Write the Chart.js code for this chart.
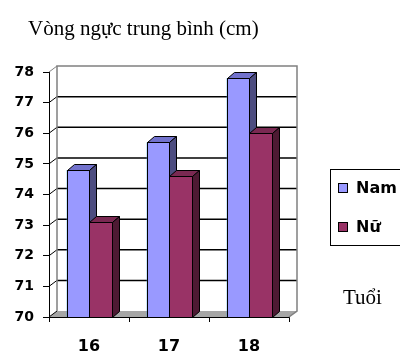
<!DOCTYPE html>
<html>
<head>
<meta charset="utf-8">
<script src="https://cdn.jsdelivr.net/npm/chart.js@4/dist/chart.umd.min.js"></script>
<style>
  html, body { margin: 0; padding: 0; background: #ffffff; }
  #wrap { width: 400px; height: 352px; position: relative; }
</style>
</head>
<body>
<div id="wrap"><canvas id="c" width="400" height="352"></canvas></div>
<script>
// Age groups and mean chest girth (cm)
const ages = ['16', '17', '18'];
const namValues = [74.8, 75.7, 77.8];
const nuValues = [73.1, 74.6, 76.0];
const seriesNames = ['Nam', 'Nữ'];
const yTitle = 'Vòng ngực trung bình (cm)';
const xTitle = 'Tuổi';

// Face colours for the extruded columns: front, top, side
const faces = [
  { front: '#9999FF', top: '#7272CC', side: '#4D4D80' },
  { front: '#993366', top: '#7A2952', side: '#4D1A33' }
];

const DEPTH_X = 7, DEPTH_Y = 6;      // column extrusion
const WALL_X = 8, WALL_Y = 6;        // back wall offset

// Floor, side wall and back wall with its grid lines
const wallsPlugin = {
  id: 'walls',
  beforeDatasetsDraw(chart) {
    const ctx = chart.ctx;
    const { left, right, top, bottom } = chart.chartArea;
    const ys = chart.scales.y;
    ctx.save();
    // floor
    ctx.beginPath();
    ctx.moveTo(left, bottom);
    ctx.lineTo(right, bottom);
    ctx.lineTo(right + WALL_X, bottom - WALL_Y);
    ctx.lineTo(left + WALL_X, bottom - WALL_Y);
    ctx.closePath();
    ctx.fillStyle = '#A6A6A6';
    ctx.fill();
    // back wall grid lines
    ctx.strokeStyle = '#000000';
    ctx.lineWidth = 1.5;
    ys.ticks.forEach(t => {
      if (t.value <= ys.min || t.value >= ys.max) return;
      const y = ys.getPixelForValue(t.value) - WALL_Y;
      ctx.beginPath();
      ctx.moveTo(left + WALL_X, y);
      ctx.lineTo(right + WALL_X, y);
      ctx.stroke();
    });
    // side wall lines
    ctx.lineWidth = 1;
    ys.ticks.forEach(t => {
      const y = ys.getPixelForValue(t.value);
      ctx.strokeStyle = (t.value === ys.max) ? '#808080' : '#000000';
      ctx.beginPath();
      ctx.moveTo(left, y);
      ctx.lineTo(left + WALL_X, y - WALL_Y);
      ctx.stroke();
    });
    // wall edges
    ctx.strokeStyle = '#808080';
    ctx.lineWidth = 1.5;
    ctx.beginPath();
    ctx.moveTo(left + WALL_X, bottom - WALL_Y);
    ctx.lineTo(left + WALL_X, top - WALL_Y);
    ctx.lineTo(right + WALL_X, top - WALL_Y);
    ctx.lineTo(right + WALL_X, bottom - WALL_Y);
    ctx.lineTo(right, bottom);
    ctx.stroke();
    ctx.restore();
  }
};

// Extruded columns: for each age, Nam then Nữ, using the bar geometry from the scales
const columnsPlugin = {
  id: 'columns3d',
  afterDatasetsDraw(chart) {
    const ctx = chart.ctx;
    const floor = chart.chartArea.bottom;
    const metas = chart.data.datasets.map((d, i) => chart.getDatasetMeta(i));
    ctx.save();
    ctx.strokeStyle = '#000000';
    ctx.lineWidth = 1;
    ctx.lineJoin = 'miter';
    ages.forEach((_, j) => {
      metas.forEach((meta, i) => {
        const f = faces[i];
        const p = meta.data[j].getProps(['x', 'y', 'width'], true);
        const base = floor;
        const l = Math.round(p.x - p.width / 2) + 0.5;
        const r = Math.round(p.x + p.width / 2) + 0.5;
        const y = Math.round(p.y) + 0.5;
        const b = base + 0.5;
        // front
        ctx.fillStyle = f.front;
        ctx.fillRect(l, y, r - l, b - y);
        ctx.strokeRect(l, y, r - l, b - y);
        // top
        ctx.beginPath();
        ctx.moveTo(l, y);
        ctx.lineTo(l + DEPTH_X, y - DEPTH_Y);
        ctx.lineTo(r + DEPTH_X, y - DEPTH_Y);
        ctx.lineTo(r, y);
        ctx.closePath();
        ctx.fillStyle = f.top;
        ctx.fill();
        ctx.stroke();
        // side
        ctx.beginPath();
        ctx.moveTo(r, y);
        ctx.lineTo(r + DEPTH_X, y - DEPTH_Y);
        ctx.lineTo(r + DEPTH_X, b - DEPTH_Y);
        ctx.lineTo(r, b);
        ctx.closePath();
        ctx.fillStyle = f.side;
        ctx.fill();
        ctx.stroke();
      });
    });
    ctx.restore();
  }
};

// Axis titles and boxed legend
const labelsPlugin = {
  id: 'labels',
  afterDraw(chart) {
    const ctx = chart.ctx;
    ctx.save();
    ctx.fillStyle = '#000000';
    ctx.textBaseline = 'alphabetic';
    ctx.textAlign = 'left';
    ctx.font = '21px "Liberation Serif", "Times New Roman", serif';
    ctx.fillText(yTitle, 28, 35);
    ctx.fillText(xTitle, 343, 304);

    // legend box
    ctx.strokeStyle = '#000000';
    ctx.lineWidth = 1;
    ctx.strokeRect(330.5, 169.5, 80, 76);
    ctx.font = 'bold 16px "DejaVu Sans", sans-serif';
    ctx.textBaseline = 'middle';
    chart.data.datasets.forEach((ds, i) => {
      const cy = 188 + i * 39;
      ctx.fillStyle = faces[i].front;
      ctx.fillRect(338.5, cy - 4.5, 9, 9);
      ctx.strokeRect(338.5, cy - 4.5, 9, 9);
      ctx.fillStyle = '#000000';
      ctx.fillText(ds.label, 356, cy + 1);
    });
    ctx.restore();
  }
};

new Chart(document.getElementById('c'), {
  type: 'bar',
  data: {
    labels: ages,
    datasets: [
      { label: seriesNames[0], data: namValues },
      { label: seriesNames[1], data: nuValues }
    ]
  },
  options: {
    responsive: false,
    animation: false,
    devicePixelRatio: 1,
    layout: { padding: { top: 72, right: 111, left: 0, bottom: 0 } },
    datasets: {
      bar: {
        // faces are painted by the columns3d plugin
        backgroundColor: 'rgba(0,0,0,0)',
        borderWidth: 0,
        categoryPercentage: 0.5625,
        barPercentage: 1
      }
    },
    plugins: {
      legend: { display: false },
      title: { display: false },
      tooltip: { enabled: false }
    },
    scales: {
      y: {
        min: 70,
        max: 78,
        ticks: {
          stepSize: 1,
          color: '#000000',
          padding: 9,
          font: { family: '"DejaVu Sans", sans-serif', size: 14, weight: 'bold' }
        },
        grid: { drawOnChartArea: false, drawTicks: true, tickLength: 6, color: '#000000' },
        border: { display: true, color: '#000000', width: 1 },
        afterFit(scale) { scale.width = 49; }
      },
      x: {
        ticks: {
          color: '#000000',
          padding: 15,
          font: { family: '"DejaVu Sans", sans-serif', size: 16, weight: 'bold' }
        },
        grid: { offset: true, drawOnChartArea: false, drawTicks: true, tickLength: 5, color: '#000000' },
        border: { display: true, color: '#000000', width: 1 },
        afterFit(scale) { scale.height = 35; }
      }
    }
  },
  plugins: [wallsPlugin, columnsPlugin, labelsPlugin]
});
</script>
</body>
</html>
